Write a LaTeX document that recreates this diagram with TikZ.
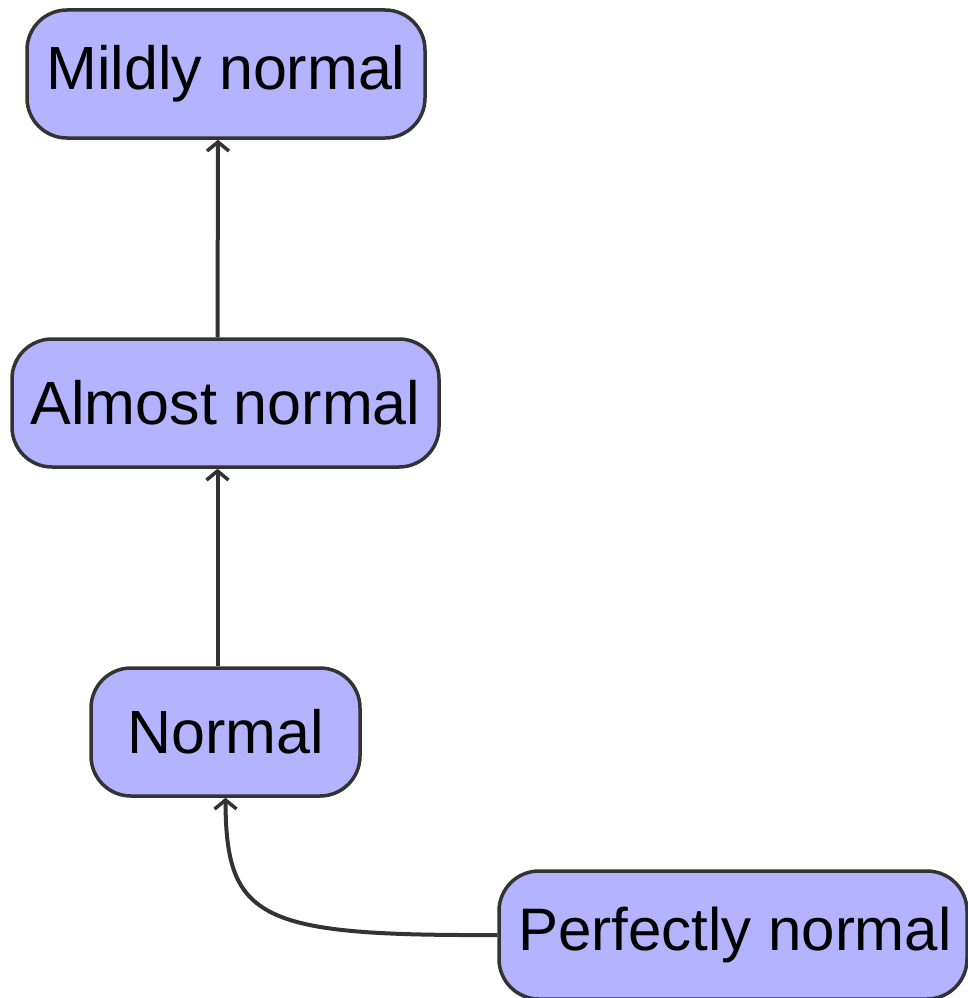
\documentclass[tikz,border=0pt]{standalone}
\usepackage{fontspec}
\setmainfont{Liberation Sans}
\usetikzlibrary{arrows.meta}
\definecolor{boxfill}{HTML}{B3B3FF}
\definecolor{edge}{HTML}{333333}
\tikzset{
  levelbox/.style={draw=edge, fill=boxfill, line width=3.5pt, rounded corners=40pt,
    minimum height=128pt, inner sep=0pt, text=black,
    font=\fontsize{61}{70}\selectfont},
  implies/.style={draw=edge, line width=4pt,
    -{Straight Barb[length=9pt,width=22pt,line width=3.5pt]}},
}
\begin{document}
\begin{tikzpicture}[x=1pt,y=-1pt]
  \useasboundingbox (0,0) rectangle (967,998);
  \node[levelbox, minimum width=398pt] (mildly) at (226,74) {Mildly normal};
  \node[levelbox, minimum width=427pt] (almost) at (225.5,403) {Almost normal};
  \node[levelbox, minimum width=269pt] (normal) at (225.5,732) {Normal};
  \node[levelbox, minimum width=468pt] (perfect) at (733,935)
    {\fontsize{60}{70}\selectfont\hspace*{4pt}Perfectly normal};
  \draw[implies] ([xshift=-8pt]almost.north) -- ([xshift=-8pt]mildly.south);
  \draw[implies] ([xshift=-8pt]normal.north) -- ([xshift=-8pt]almost.south);
  \draw[implies] (perfect.west) .. controls (260,936) and (226,920) .. (normal.south);
\end{tikzpicture}
\end{document}
